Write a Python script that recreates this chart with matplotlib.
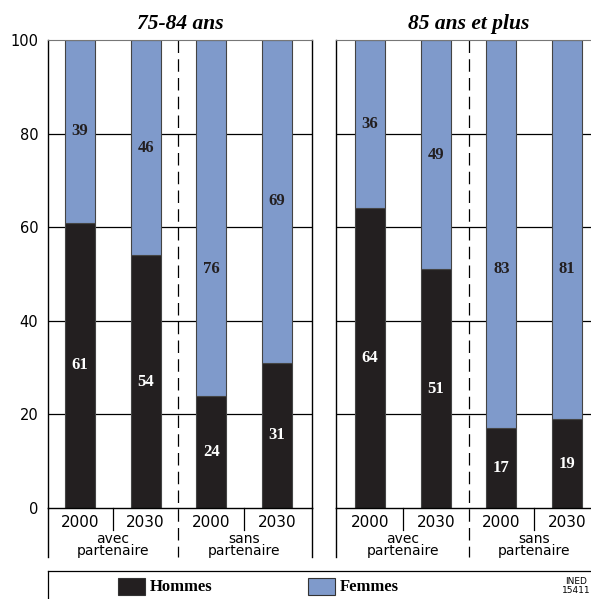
import matplotlib.pyplot as plt
from matplotlib.lines import Line2D
from matplotlib.patches import Rectangle

# données (%)
panels = ['75-84 ans', '85 ans et plus']
years = ['2000', '2030', '2000', '2030']
groups = ['avec\npartenaire', 'sans\npartenaire']
hommes_75 = [61, 54, 24, 31]
femmes_75 = [39, 46, 76, 69]
hommes_85 = [64, 51, 17, 19]
femmes_85 = [36, 49, 83, 81]

c_h = '#231f20'
c_f = '#7f9acb'
serif = 'Liberation Serif'

fig = plt.figure(figsize=(5.91, 5.99), dpi=100)
W, H = 591, 599


def px_axes(x0, x1, ytop, ybot):
    return fig.add_axes([x0 / W, 1 - ybot / H, (x1 - x0) / W, (ybot - ytop) / H])


ax1 = px_axes(48, 312, 40, 508)
ax2 = px_axes(336, 602, 40, 508)

data = [(ax1, hommes_75, femmes_75, (-0.487, 3.533)),
        (ax2, hommes_85, femmes_85, (-0.518, 3.53))]

for i, (ax, h, f, xl) in enumerate(data):
    x = list(range(len(h)))
    for yg in [20, 40, 60, 80]:
        ax.axhline(yg, color='black', lw=0.9, zorder=0)
    ax.bar(x, h, width=0.457, color=c_h, edgecolor='#444444', lw=0.8, zorder=2)
    ax.bar(x, f, bottom=h, width=0.457, color=c_f, edgecolor='#444444', lw=0.8, zorder=2)
    for xi, hv, fv in zip(x, h, f):
        ax.text(xi, hv / 2, str(hv), color='white', ha='center', va='center',
                family=serif, fontweight='bold', fontsize=12, zorder=3)
        yf = hv + fv / 2 if fv < 75 else 51
        ax.text(xi, yf, str(fv), color='#231f20', ha='center', va='center',
                family=serif, fontweight='bold', fontsize=12, zorder=3)
    ax.set_xlim(*xl)
    ax.set_ylim(0, 100)
    ax.set_xticks([])
    ax.set_title(panels[i], family=serif, fontstyle='italic', fontweight='bold',
                 fontsize=15.5, pad=8)
    ax.spines['top'].set_color('#777777')
    for s in ['left', 'right', 'bottom']:
        ax.spines[s].set_color('black')
        ax.spines[s].set_linewidth(1.0)
    if i == 0:
        ax.set_yticks([0, 20, 40, 60, 80, 100])
        ax.tick_params(axis='y', length=0, labelsize=10.5, pad=7)
    else:
        ax.set_yticks([])

    tr = ax.get_xaxis_transform()
    # lignes sous l'axe
    for xs in [xl[0], xl[1]]:
        ax.add_line(Line2D([xs, xs], [0, -0.105], transform=tr, color='black',
                           lw=1.0, clip_on=False))
    for xs in [0.5, 2.5]:
        ax.add_line(Line2D([xs, xs], [0, -0.047], transform=tr, color='black',
                           lw=0.9, clip_on=False))
    ax.add_line(Line2D([1.5, 1.5], [1, -0.105], transform=tr, color='black',
                       lw=0.9, dashes=(10, 5), clip_on=False, zorder=1))
    for xi, yr in zip(x, years):
        ax.text(xi, -0.031, yr, transform=tr, ha='center', va='center', fontsize=11)
    for gi, g in enumerate(groups):
        ax.text(0.5 + 2 * gi, -0.079, g, transform=tr, ha='center', va='center',
                fontsize=10, linespacing=0.9)

# légende
fig.add_artist(Line2D([48 / W, 1.02], [1 - 571 / H, 1 - 571 / H], color='black', lw=0.9))
fig.add_artist(Line2D([48 / W, 48 / W], [1 - 571 / H, -0.02], color='black', lw=0.9))
for x0, col, lab in [(118, c_h, 'Hommes'), (308, c_f, 'Femmes')]:
    fig.add_artist(Rectangle((x0 / W, 1 - 595 / H), 27 / W, 17 / H,
                             facecolor=col, edgecolor='#333333', lw=0.8))
    fig.text((x0 + 32) / W, 1 - 587 / H, lab, family=serif, fontweight='bold',
             fontsize=12, va='center', ha='left')
fig.text(576 / W, 1 - 586 / H, 'INED\n15411', fontsize=6.5, ha='center', va='center',
         family='Liberation Sans Narrow', linespacing=0.95)

fig.savefig('out.png', dpi=100)
